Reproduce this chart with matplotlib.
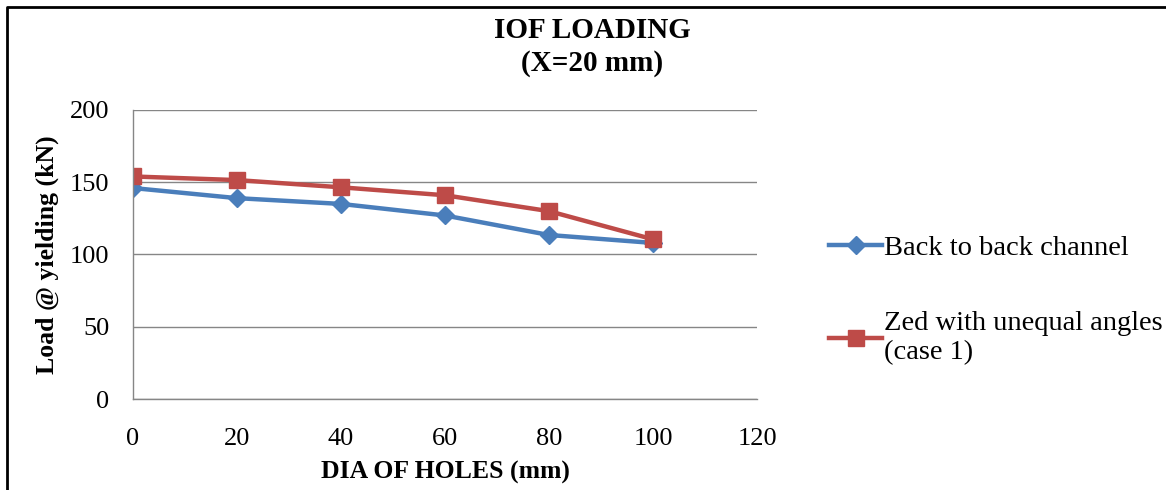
import matplotlib.pyplot as plt
from matplotlib.lines import Line2D

plt.rcParams['font.family'] = ['Liberation Serif', 'DejaVu Serif']

dia = [0, 20, 40, 60, 80, 100]
back_to_back = [146, 139, 135, 127, 113.5, 108]
zed_unequal = [154, 151.5, 146.5, 141, 130, 110.5]
x_ticks = [0, 20, 40, 60, 80, 100, 120]
y_ticks = [0, 50, 100, 150, 200]

fig = plt.figure(figsize=(11.66, 4.9), dpi=100)
ax = fig.add_axes([133/1166, 1-399/490, (757-133)/1166, (399-110)/490])

ax.plot(dia, back_to_back, color='#4A7EBB', lw=3.2, marker='D', ms=9,
        label='Back to back channel')
ax.plot(dia, zed_unequal, color='#BE4B48', lw=3.2, marker='s', ms=12,
        label='Zed with unequal angles\n(case 1)')

ax.set_xlim(0, 120)
ax.set_ylim(0, 200)
ax.set_xticks(x_ticks)
ax.set_yticks(y_ticks)
ax.tick_params(length=0, labelsize=19)
ax.tick_params(axis='x', pad=21)
ax.tick_params(axis='y', pad=17)
ax.grid(axis='y', color='#868686', lw=1)
ax.set_axisbelow(True)
for s in ['top', 'right']:
    ax.spines[s].set_visible(False)
for s in ['left', 'bottom']:
    ax.spines[s].set_color('#868686')
    ax.spines[s].set_linewidth(1)

ax.set_xlabel('DIA OF HOLES (mm)', fontsize=18.5, fontweight='bold', labelpad=8)
ax.set_ylabel('Load @ yielding (kN)', fontsize=18.5, fontweight='bold', labelpad=8)

fig.text(592/1166, 1-47/490, 'IOF LOADING\n(X=20 mm)', ha='center', va='center',
         fontsize=21, fontweight='bold', linespacing=1.25)

fig.legend(loc='upper left', bbox_to_anchor=(818/1166, 1-224/490), frameon=False,
           fontsize=20.5, handlelength=1.85, handletextpad=0.08, labelspacing=1.75,
           borderaxespad=0)

# screenshot border
fig.add_artist(Line2D([7/1166, 7/1166, 1], [0, 1-7/490, 1-7/490],
                      color='black', lw=2, transform=fig.transFigure))

fig.savefig('out.png', dpi=100)
